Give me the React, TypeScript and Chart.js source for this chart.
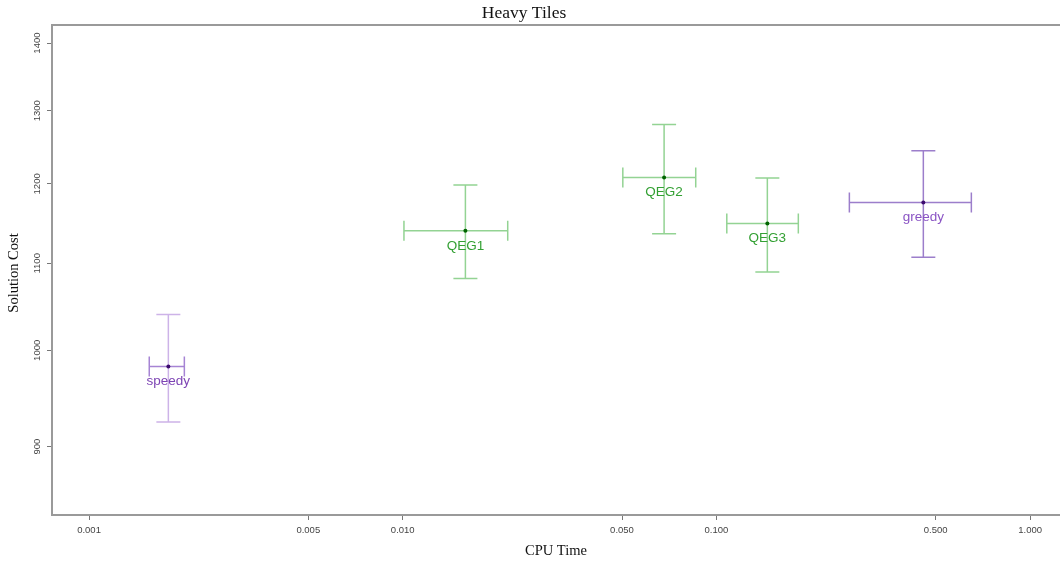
import React, { useEffect, useRef } from "react";
import { Chart, registerables } from "chart.js";

Chart.register(...registerables);

// ---- data ----
const methods = ["speedy", "QEG1", "QEG2", "QEG3", "greedy"];
const methodGroup = ["base", "qeg", "qeg", "qeg", "base"];
const cpuTime = [0.00179, 0.01584, 0.0681, 0.1453, 0.4566];
const cpuLow = [0.001556, 0.01009, 0.0503, 0.1079, 0.2653];
const cpuHigh = [0.002013, 0.02161, 0.0859, 0.1824, 0.6495];
const cost = [982.4, 1139.8, 1208.3, 1149.0, 1175.7];
const costLow = [924.4, 1081.8, 1136.1, 1089.5, 1107.3];
const costHigh = [1040.0, 1198.6, 1280.7, 1207.8, 1244.3];
const xTickValues = [0.001, 0.005, 0.01, 0.05, 0.1, 0.5, 1.0];
const yTickValues = [900, 1000, 1100, 1200, 1300, 1400];
const xRange = [0.000762, 1.245];
const yRange = [835, 1428];

const chartTitle = "Heavy Tiles";
const xTitle = "CPU Time";
const yTitle = "Solution Cost";

// ---- styles ----
const styleFor = (i: number) => {
  if (methodGroup[i] === "qeg") {
    return { v: "#93d393", h: "#93d393", pt: "#006400", label: "#33a033" };
  }
  if (methods[i] === "speedy") {
    return { v: "#cdb3e8", h: "#a684d4", pt: "#3c0a6e", label: "#7d44b4" };
  }
  return { v: "#9c7ecb", h: "#9c7ecb", pt: "#3c0a6e", label: "#8a54c4" };
};

const SANS = "'Liberation Sans', Arial, sans-serif";
const SERIF = "'Liberation Serif', 'Times New Roman', serif";

const decorPlugin = {
  id: "decor",
  beforeDatasetsDraw(chart: any) {
    const { ctx } = chart;
    const xs = chart.scales.x;
    const ys = chart.scales.y;
    ctx.save();
    ctx.lineWidth = 1.5;
    for (let i = 0; i < methods.length; i++) {
      const st = styleFor(i);
      const cx = xs.getPixelForValue(cpuTime[i]);
      const cy = ys.getPixelForValue(cost[i]);
      const yt = ys.getPixelForValue(costHigh[i]);
      const yb = ys.getPixelForValue(costLow[i]);
      const xl = xs.getPixelForValue(cpuLow[i]);
      const xr = xs.getPixelForValue(cpuHigh[i]);
      const capW = 12;
      const capH = 10;
      ctx.strokeStyle = st.v;
      ctx.beginPath();
      ctx.moveTo(cx, yt);
      ctx.lineTo(cx, yb);
      ctx.moveTo(cx - capW, yt);
      ctx.lineTo(cx + capW, yt);
      ctx.moveTo(cx - capW, yb);
      ctx.lineTo(cx + capW, yb);
      ctx.stroke();
      ctx.strokeStyle = st.h;
      ctx.beginPath();
      ctx.moveTo(xl, cy);
      ctx.lineTo(xr, cy);
      ctx.moveTo(xl, cy - capH);
      ctx.lineTo(xl, cy + capH);
      ctx.moveTo(xr, cy - capH);
      ctx.lineTo(xr, cy + capH);
      ctx.stroke();
    }
    ctx.restore();
  },
  afterDatasetsDraw(chart: any) {
    const { ctx } = chart;
    const xs = chart.scales.x;
    const ys = chart.scales.y;
    ctx.save();
    ctx.font = `13.5px ${SANS}`;
    ctx.textAlign = "center";
    ctx.textBaseline = "middle";
    for (let i = 0; i < methods.length; i++) {
      const st = styleFor(i);
      const cx = xs.getPixelForValue(cpuTime[i]);
      const cy = ys.getPixelForValue(cost[i]);
      ctx.fillStyle = st.label;
      ctx.fillText(methods[i], cx, cy + 15);
    }
    ctx.restore();
  },
  afterDraw(chart: any) {
    const { ctx, chartArea } = chart;
    const ys = chart.scales.y;
    ctx.save();
    ctx.strokeStyle = "#9a9a9a";
    ctx.lineWidth = 2;
    ctx.beginPath();
    ctx.moveTo(chartArea.left - 1, chartArea.top);
    ctx.lineTo(chartArea.right, chartArea.top);
    ctx.stroke();
    ctx.fillStyle = "#444";
    ctx.font = `9.5px ${SANS}`;
    ctx.textAlign = "center";
    ctx.textBaseline = "middle";
    for (const v of yTickValues) {
      const py = ys.getPixelForValue(v);
      ctx.save();
      ctx.translate(chartArea.left - 15, py);
      ctx.rotate(-Math.PI / 2);
      ctx.fillText(String(v), 0, 0);
      ctx.restore();
    }
    ctx.fillStyle = "#111";
    ctx.font = `17.5px ${SERIF}`;
    ctx.fillText(chartTitle, 524, 13);
    ctx.font = `14.5px ${SERIF}`;
    ctx.fillText(xTitle, (chartArea.left + chartArea.right) / 2, 551);
    ctx.save();
    ctx.translate(14, (chartArea.top + chartArea.bottom) / 2 + 3);
    ctx.rotate(-Math.PI / 2);
    ctx.fillText(yTitle, 0, 0);
    ctx.restore();
    ctx.restore();
  },
};

export default function App() {
  const ref = useRef<HTMLCanvasElement | null>(null);
  useEffect(() => {
    if (!ref.current) return;
    const chart = new Chart(ref.current, {
      type: "scatter",
      data: {
        datasets: [
          {
            data: methods.map((_, i) => ({ x: cpuTime[i], y: cost[i] })),
            pointRadius: 2,
            pointHoverRadius: 2,
            pointBorderWidth: 0,
            pointBackgroundColor: methods.map((_, i) => styleFor(i).pt),
            pointBorderColor: methods.map((_, i) => styleFor(i).pt),
          },
        ],
      },
      options: {
        animation: false,
        responsive: true,
        maintainAspectRatio: false,
        layout: { autoPadding: false, padding: { top: 25, right: 0, left: 0, bottom: 0 } },
        plugins: {
          legend: { display: false },
          title: { display: false },
          tooltip: { enabled: false },
        },
        scales: {
          x: {
            type: "logarithmic",
            min: xRange[0],
            max: xRange[1],
            afterBuildTicks: (scale: any) => {
              scale.ticks = xTickValues.map((v) => ({ value: v }));
            },
            afterFit: (scale: any) => {
              scale.height = 47;
              scale.paddingLeft = 0;
              scale.paddingRight = 0;
            },
            ticks: {
              autoSkip: false,
              maxRotation: 0,
              minRotation: 0,
              padding: 5,
              color: "#444",
              font: { family: SANS, size: 9.5 },
              callback: (v: any) => Number(v).toFixed(3),
            },
            grid: {
              display: true,
              drawOnChartArea: false,
              drawTicks: true,
              tickLength: 5,
              color: "#777",
              lineWidth: 1,
            },
            border: { display: true, color: "#9a9a9a", width: 2 },
          },
          y: {
            type: "logarithmic",
            min: yRange[0],
            max: yRange[1],
            afterBuildTicks: (scale: any) => {
              scale.ticks = yTickValues.map((v) => ({ value: v }));
            },
            afterFit: (scale: any) => {
              scale.width = 52;
              scale.paddingTop = 0;
              scale.paddingBottom = 0;
            },
            ticks: { display: false },
            grid: {
              display: true,
              drawOnChartArea: false,
              drawTicks: true,
              tickLength: 5,
              color: "#777",
              lineWidth: 1,
            },
            border: { display: true, color: "#9a9a9a", width: 2 },
          },
        },
      },
      plugins: [decorPlugin],
    });
    return () => chart.destroy();
  }, []);
  return (
    <div style={{ position: "absolute", left: 0, top: 0, width: 1060, height: 562, background: "#fff" }}>
      <canvas ref={ref} />
    </div>
  );
}
